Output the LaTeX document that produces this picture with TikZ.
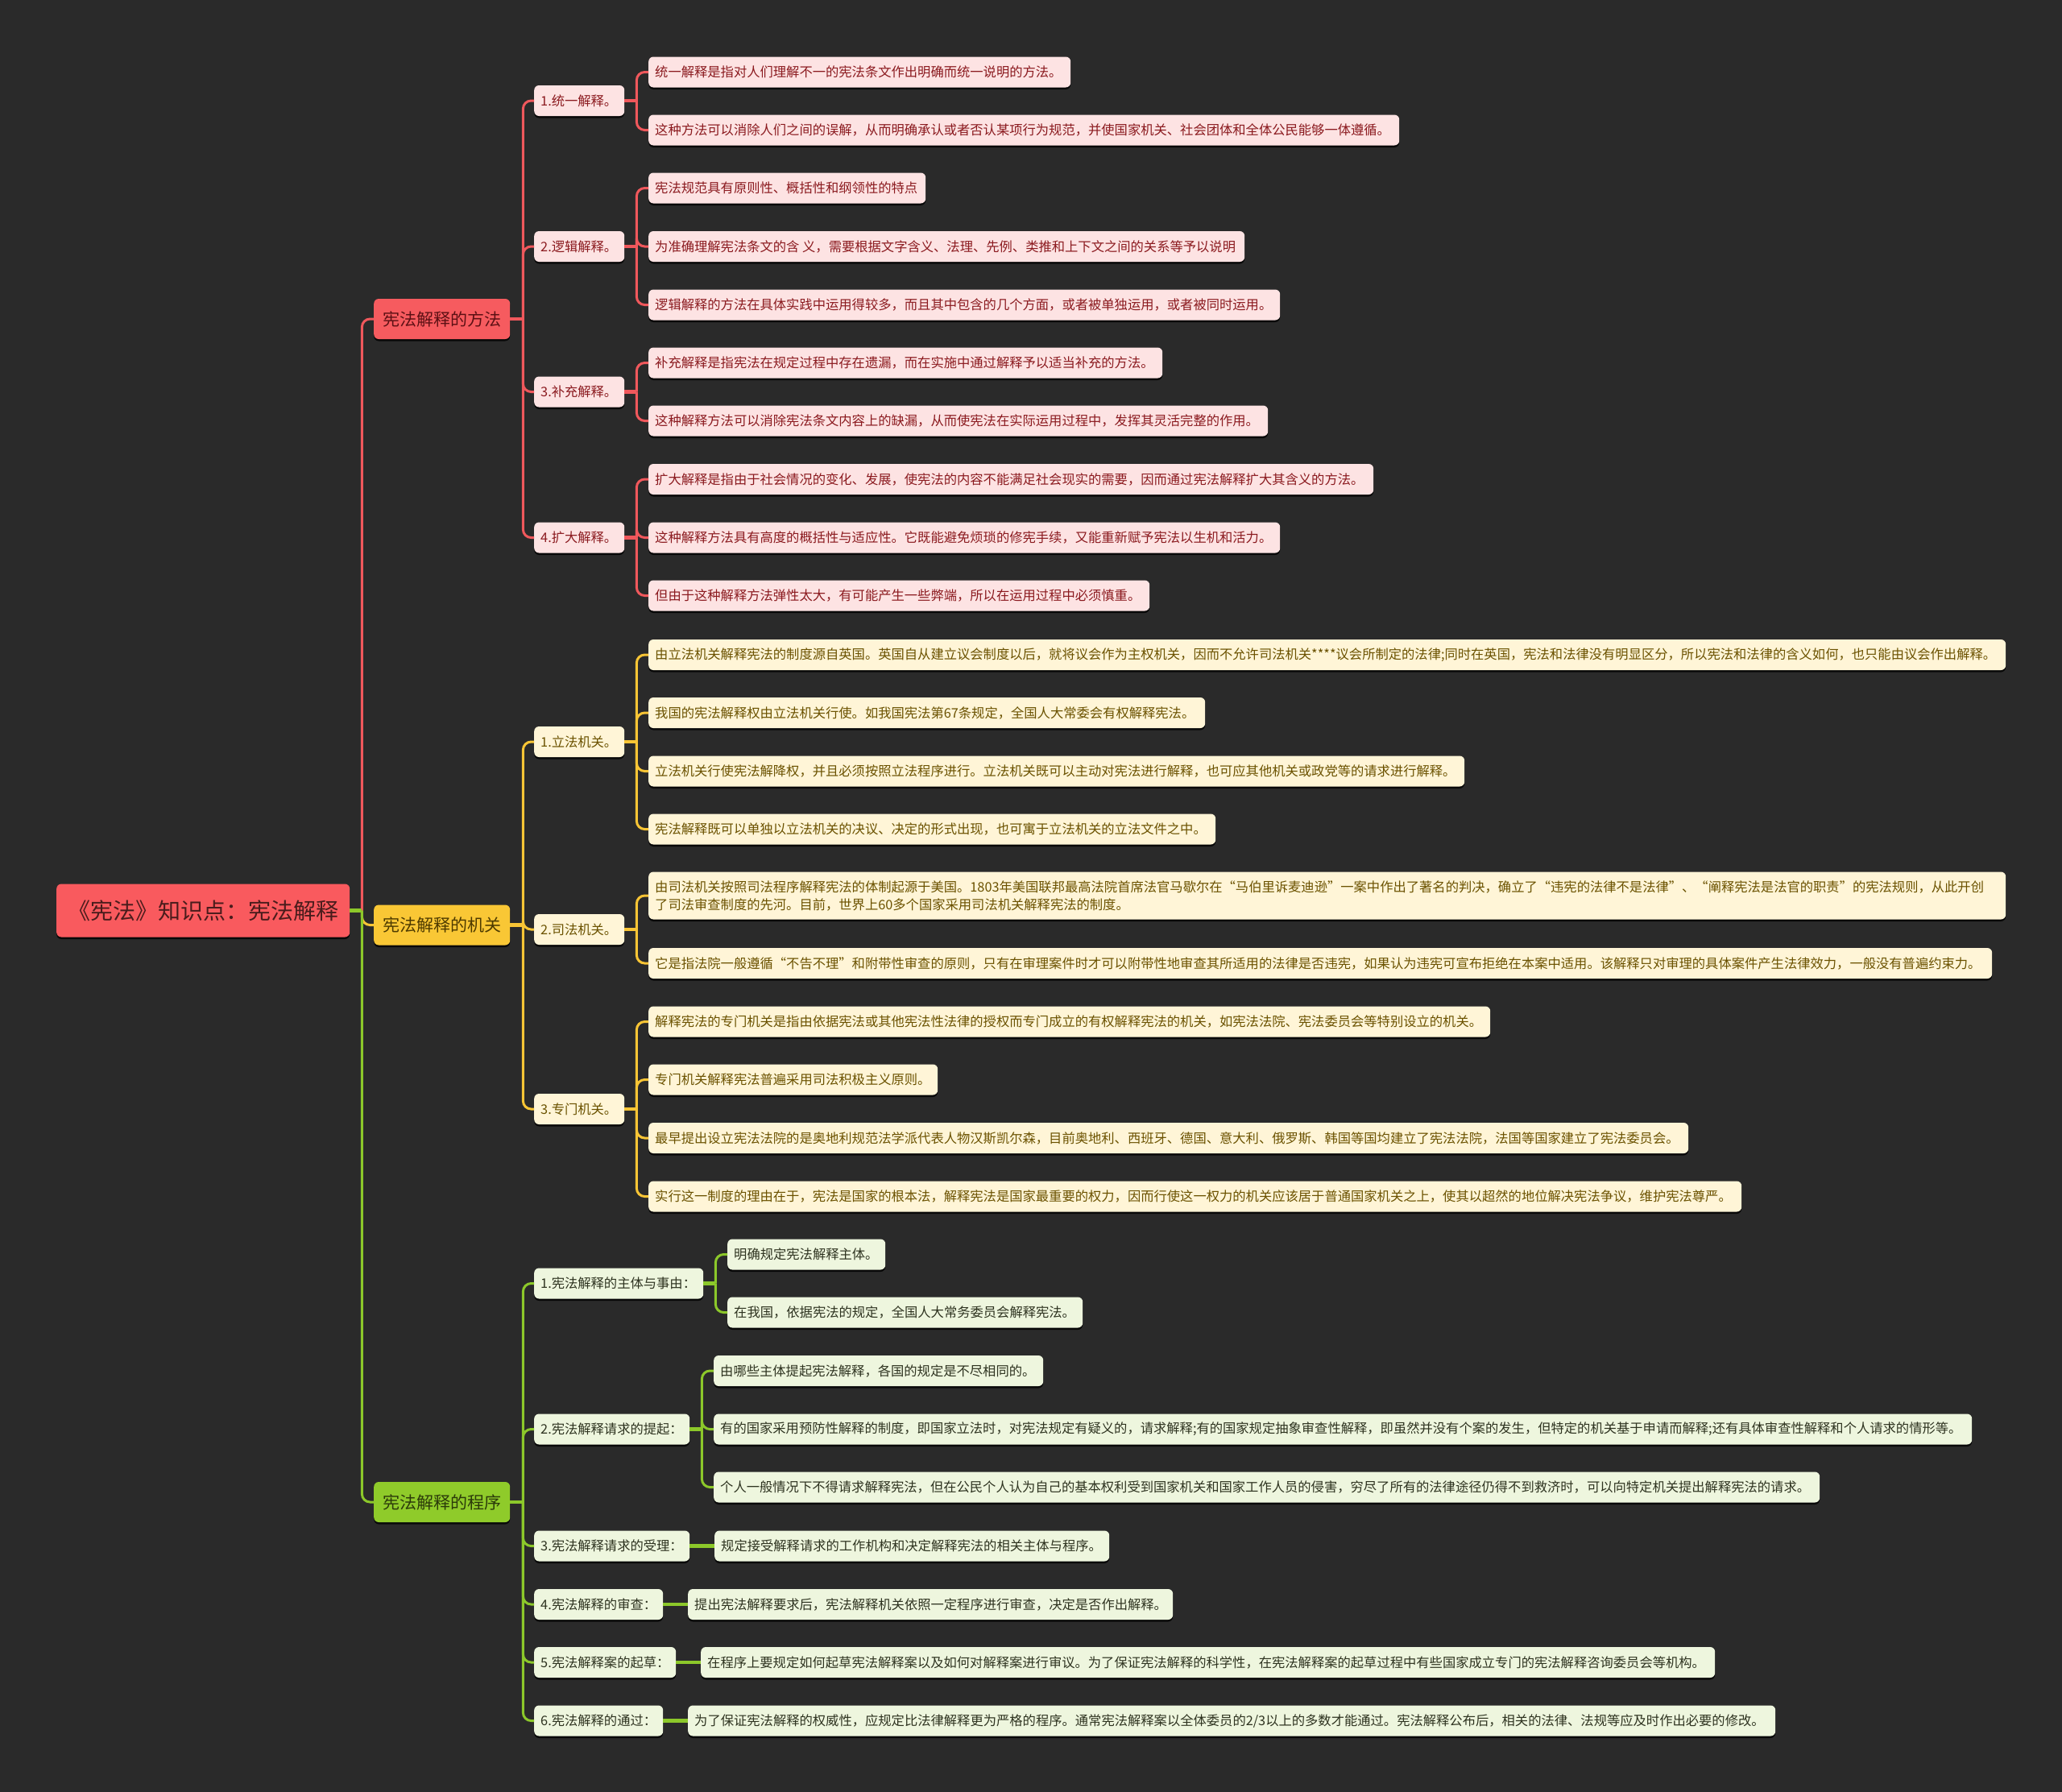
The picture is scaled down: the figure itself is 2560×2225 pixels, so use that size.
\documentclass[tikz,border=0pt]{standalone}
\usepackage{fontspec}
\setmainfont{Noto Sans CJK SC}
\usetikzlibrary{shadows}
\definecolor{bg}{HTML}{2A2A2A}
\definecolor{rline}{HTML}{F0585C}
\definecolor{yline}{HTML}{F8C535}
\definecolor{gline}{HTML}{8CC82A}
\definecolor{rootfill}{HTML}{F95A5E}
\definecolor{rootText}{HTML}{4A1C1C}
\definecolor{ronefill}{HTML}{F65B5F}
\definecolor{ronetext}{HTML}{5C1014}
\definecolor{yonefill}{HTML}{F9C735}
\definecolor{yonetext}{HTML}{4D3A00}
\definecolor{gonefill}{HTML}{8FCB2A}
\definecolor{gonetext}{HTML}{2B3A0A}
\definecolor{rleaffill}{HTML}{FDE3E3}
\definecolor{rleaftext}{HTML}{8B1A1F}
\definecolor{yleaffill}{HTML}{FFF5D7}
\definecolor{yleaftext}{HTML}{6B5200}
\definecolor{gleaffill}{HTML}{EEF6DE}
\definecolor{gleaftext}{HTML}{2E3320}
\newcommand\lbx[2]{\makebox[#1pt][l]{#2}}
\tikzset{
  boxbase/.style={rounded corners=6pt, anchor=west, inner xsep=8pt, inner ysep=0pt,
    drop shadow={shadow xshift=0pt, shadow yshift=-2.5pt, opacity=0.8, fill=black}},
  leafbox/.style={boxbase, minimum height=38pt, font=\fontsize{16.3}{22}\selectfont},
  rleaf/.style={leafbox, fill=rleaffill, text=rleaftext},
  yleaf/.style={leafbox, fill=yleaffill, text=yleaftext},
  gleaf/.style={leafbox, fill=gleaffill, text=gleaftext},
  onebox/.style={boxbase, minimum height=50pt, minimum width=169pt, inner xsep=11pt, font=\fontsize{21}{26}\selectfont},
  rootbox/.style={boxbase, minimum height=66pt, minimum width=364pt, fill=rootfill, text=rootText, font=\fontsize{28}{34}\selectfont},
  rc/.style={draw=rline, line width=3pt, rounded corners=10pt},
  yc/.style={draw=yline, line width=3pt, rounded corners=10pt},
  gc/.style={draw=gline, line width=3pt, rounded corners=10pt},
  rs/.style={draw=rline, line width=4.5pt},
  ys/.style={draw=yline, line width=4.5pt},
  gs/.style={draw=gline, line width=4.5pt},
}
\begin{document}
\begin{tikzpicture}[x=1pt,y=-1pt]
\fill[bg] (0,0) rectangle (2560,2225);
\useasboundingbox (0,0) rectangle (2560,2225);

% root and level 1
\node[rootbox] (root) at (70,1130.5) {《宪法》知识点：宪法解释};
\node[onebox, fill=ronefill, text=ronetext] (mr) at (464,396) {宪法解释的方法};
\node[onebox, fill=yonefill, text=yonetext] (my) at (464,1148.5) {宪法解释的机关};
\node[onebox, fill=gonefill, text=gonetext] (mg) at (464,1865) {宪法解释的程序};

% level 2
\node[rleaf] (rA) at (663,125) {\lbx{96}{1.统一解释。}};
\node[rleaf] (rB) at (663,306) {\lbx{96}{2.逻辑解释。}};
\node[rleaf] (rC) at (663,486.5) {\lbx{96}{3.补充解释。}};
\node[rleaf] (rD) at (663,667.5) {\lbx{96}{4.扩大解释。}};
\node[yleaf] (yA) at (663,921) {\lbx{96}{1.立法机关。}};
\node[yleaf] (yB) at (663,1154) {\lbx{96}{2.司法机关。}};
\node[yleaf] (yC) at (663,1377) {\lbx{96}{3.专门机关。}};
\node[gleaf] (gA) at (663,1593.5) {\lbx{194}{1.宪法解释的主体与事由：}};
\node[gleaf] (gB) at (663,1774.5) {\lbx{177}{2.宪法解释请求的提起：}};
\node[gleaf] (gC) at (663,1919.5) {\lbx{177}{3.宪法解释请求的受理：}};
\node[gleaf] (gD) at (663,1992) {\lbx{144}{4.宪法解释的审查：}};
\node[gleaf] (gE) at (663,2064) {\lbx{160}{5.宪法解释案的起草：}};
\node[gleaf] (gF) at (663,2136.5) {\lbx{144}{6.宪法解释的通过：}};

% red leaves
\node[rleaf] (r11) at (805,89.5) {\lbx{508}{统一解释是指对人们理解不一的宪法条文作出明确而统一说明的方法。}};
\node[rleaf] (r12) at (805,161.5) {\lbx{916}{这种方法可以消除人们之间的误解，从而明确承认或者否认某项行为规范，并使国家机关、社会团体和全体公民能够一体遵循。}};
\node[rleaf] (r21) at (805,233.5) {\lbx{328}{宪法规范具有原则性、概括性和纲领性的特点}};
\node[rleaf] (r22) at (805,306) {\lbx{724}{为准确理解宪法条文的含 义，需要根据文字含义、法理、先例、类推和上下文之间的关系等予以说明}};
\node[rleaf] (r23) at (805,378.5) {\lbx{768}{逻辑解释的方法在具体实践中运用得较多，而且其中包含的几个方面，或者被单独运用，或者被同时运用。}};
\node[rleaf] (r31) at (805,450.5) {\lbx{622}{补充解释是指宪法在规定过程中存在遗漏，而在实施中通过解释予以适当补充的方法。}};
\node[rleaf] (r32) at (805,522.5) {\lbx{753}{这种解释方法可以消除宪法条文内容上的缺漏，从而使宪法在实际运用过程中，发挥其灵活完整的作用。}};
\node[rleaf] (r41) at (805,595) {\lbx{884}{扩大解释是指由于社会情况的变化、发展，使宪法的内容不能满足社会现实的需要，因而通过宪法解释扩大其含义的方法。}};
\node[rleaf] (r42) at (805,667.5) {\lbx{768}{这种解释方法具有高度的概括性与适应性。它既能避免烦琐的修宪手续，又能重新赋予宪法以生机和活力。}};
\node[rleaf] (r43) at (805,739.5) {\lbx{606}{但由于这种解释方法弹性太大，有可能产生一些弊端，所以在运用过程中必须慎重。}};

% yellow leaves
\node[yleaf] (y11) at (805,813) {\lbx{1669}{由立法机关解释宪法的制度源自英国。英国自从建立议会制度以后，就将议会作为主权机关，因而不允许司法机关****议会所制定的法律;同时在英国，宪法和法律没有明显区分，所以宪法和法律的含义如何，也只能由议会作出解释。}};
\node[yleaf] (y12) at (805,885) {\lbx{675}{我国的宪法解释权由立法机关行使。如我国宪法第67条规定，全国人大常委会有权解释宪法。}};
\node[yleaf] (y13) at (805,957.5) {\lbx{997}{立法机关行使宪法解降权，并且必须按照立法程序进行。立法机关既可以主动对宪法进行解释，也可应其他机关或政党等的请求进行解释。}};
\node[yleaf] (y14) at (805,1029.5) {\lbx{688}{宪法解释既可以单独以立法机关的决议、决定的形式出现，也可寓于立法机关的立法文件之中。}};
\node[yleaf, minimum height=59pt, align=left] (y21) at (805,1112) {\lbx{1669}{由司法机关按照司法程序解释宪法的体制起源于美国。1803年美国联邦最高法院首席法官马歇尔在“马伯里诉麦迪逊”一案中作出了著名的判决，确立了“违宪的法律不是法律”、“阐释宪法是法官的职责”的宪法规则，从此开创}\\\lbx{1669}{了司法审查制度的先河。目前，世界上60多个国家采用司法机关解释宪法的制度。}};
\node[yleaf] (y22) at (805,1196) {\lbx{1652}{它是指法院一般遵循“不告不理”和附带性审查的原则，只有在审理案件时才可以附带性地审查其所适用的法律是否违宪，如果认为违宪可宣布拒绝在本案中适用。该解释只对审理的具体案件产生法律效力，一般没有普遍约束力。}};
\node[yleaf] (y31) at (805,1268.5) {\lbx{1029}{解释宪法的专门机关是指由依据宪法或其他宪法性法律的授权而专门成立的有权解释宪法的机关，如宪法法院、宪法委员会等特别设立的机关。}};
\node[yleaf] (y32) at (805,1340.5) {\lbx{343}{专门机关解释宪法普遍采用司法积极主义原则。}};
\node[yleaf] (y33) at (805,1413) {\lbx{1275}{最早提出设立宪法法院的是奥地利规范法学派代表人物汉斯凯尔森，目前奥地利、西班牙、德国、意大利、俄罗斯、韩国等国均建立了宪法法院，法国等国家建立了宪法委员会。}};
\node[yleaf] (y34) at (805,1485.5) {\lbx{1341}{实行这一制度的理由在于，宪法是国家的根本法，解释宪法是国家最重要的权力，因而行使这一权力的机关应该居于普通国家机关之上，使其以超然的地位解决宪法争议，维护宪法尊严。}};

% green leaves
\node[gleaf] (g11) at (903,1557.5) {\lbx{180}{明确规定宪法解释主体。}};
\node[gleaf] (g12) at (903,1629.5) {\lbx{425}{在我国，依据宪法的规定，全国人大常务委员会解释宪法。}};
\node[gleaf] (g21) at (886,1702) {\lbx{393}{由哪些主体提起宪法解释，各国的规定是不尽相同的。}};
\node[gleaf] (g22) at (886,1774.5) {\lbx{1546}{有的国家采用预防性解释的制度，即国家立法时，对宪法规定有疑义的，请求解释;有的国家规定抽象审查性解释，即虽然并没有个案的发生，但特定的机关基于申请而解释;还有具体审查性解释和个人请求的情形等。}};
\node[gleaf] (g23) at (886,1846.5) {\lbx{1357}{个人一般情况下不得请求解释宪法，但在公民个人认为自己的基本权利受到国家机关和国家工作人员的侵害，穷尽了所有的法律途径仍得不到救济时，可以向特定机关提出解释宪法的请求。}};
\node[gleaf] (g31) at (887,1919.5) {\lbx{474}{规定接受解释请求的工作机构和决定解释宪法的相关主体与程序。}};
\node[gleaf] (g41) at (854,1992) {\lbx{586}{提出宪法解释要求后，宪法解释机关依照一定程序进行审查，决定是否作出解释。}};
\node[gleaf] (g51) at (870,2064) {\lbx{1243}{在程序上要规定如何起草宪法解释案以及如何对解释案进行审议。为了保证宪法解释的科学性，在宪法解释案的起草过程中有些国家成立专门的宪法解释咨询委员会等机构。}};
\node[gleaf] (g61) at (854,2136.5) {\lbx{1334}{为了保证宪法解释的权威性，应规定比法律解释更为严格的程序。通常宪法解释案以全体委员的2/3以上的多数才能通过。宪法解释公布后，相关的法律、法规等应及时作出必要的修改。}};

% junction coordinates
\coordinate (jroot) at ([xshift=15pt]root.east);
\coordinate (jmr) at ([xshift=16pt]mr.east);
\coordinate (jmy) at ([xshift=16pt]my.east);
\coordinate (jmg) at ([xshift=16pt]mg.east);
\foreach \p in {rA,rB,rC,rD,yA,yB,yC,gA,gB,gD,gE,gF}
  \coordinate (j\p) at ([xshift=15pt]\p.east);

% root connectors
\draw[rc] (jroot) |- (mr.west);
\draw[yc] (jroot) |- (my.west);
\draw[gc] (jroot) |- (mg.west);
\draw[gs] (root.east) -- (jroot);

% level 1 -> level 2
\foreach \c in {rA,rB,rC,rD} \draw[rc] (jmr) |- (\c.west);
\draw[rs] (mr.east) -- (jmr);
\foreach \c in {yA,yB,yC} \draw[yc] (jmy) |- (\c.west);
\draw[ys] (my.east) -- (jmy);
\foreach \c in {gA,gB,gC,gD,gE,gF} \draw[gc] (jmg) |- (\c.west);
\draw[gs] (mg.east) -- (jmg);

% level 2 -> leaves (red)
\foreach \c in {r11,r12} \draw[rc] (jrA) |- (\c.west);
\draw[rs] (rA.east) -- (jrA);
\foreach \c in {r21,r22,r23} \draw[rc] (jrB) |- (\c.west);
\draw[rs] (rB.east) -- (jrB);
\foreach \c in {r31,r32} \draw[rc] (jrC) |- (\c.west);
\draw[rs] (rC.east) -- (jrC);
\foreach \c in {r41,r42,r43} \draw[rc] (jrD) |- (\c.west);
\draw[rs] (rD.east) -- (jrD);

% yellow
\foreach \c in {y11,y12,y13,y14} \draw[yc] (jyA) |- (\c.west);
\draw[ys] (yA.east) -- (jyA);
\foreach \c in {y21,y22} \draw[yc] (jyB) |- (\c.west);
\draw[ys] (yB.east) -- (jyB);
\foreach \c in {y31,y32,y33,y34} \draw[yc] (jyC) |- (\c.west);
\draw[ys] (yC.east) -- (jyC);

% green
\foreach \c in {g11,g12} \draw[gc] (jgA) |- (\c.west);
\draw[gs] (gA.east) -- (jgA);
\foreach \c in {g21,g22,g23} \draw[gc] (jgB) |- (\c.west);
\draw[gs] (gB.east) -- (jgB);
\draw[gs] (gC.east) -- (g31.west);
\draw[gs] (gD.east) -- (g41.west);
\draw[gs] (gE.east) -- (g51.west);
\draw[gs] (gF.east) -- (g61.west);
\end{tikzpicture}
\end{document}
